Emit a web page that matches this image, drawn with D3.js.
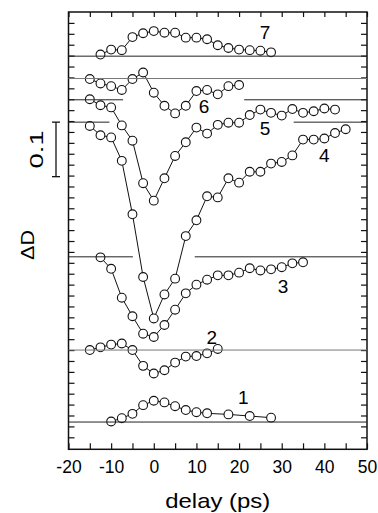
<!DOCTYPE html>
<html>
<head>
<meta charset="utf-8">
<script src="https://cdn.jsdelivr.net/npm/d3@7"></script>
<style>
  body { margin: 0; background: #fff; }
  text { font-family: "Liberation Sans", Arial, sans-serif; fill: #000; }
</style>
</head>
<body>
<svg id="chart"></svg>
<script>
// curves 1..7 : delay (ps) and ΔD relative to each curve's own baseline
const delays = [
  [-10, -7.5, -5, -2.5, 0, 2.5, 5, 7.5, 10, 12.5, 17.5, 22.5, 27.5],
  [-15, -12.5, -10, -7.5, -5, -2.5, 0, 2.5, 5, 7.5, 10, 12.5, 15],
  [-12.5, -10, -7.5, -5, -2.5, 0, 2.5, 5, 7.5, 10, 12.5, 15, 17.5, 20, 22.5, 25, 27.5, 30, 32.5, 35],
  [-15, -12.5, -10, -7.5, -5, -2.5, 0, 2.5, 5, 7.5, 10, 12.5, 15, 17.5, 20, 22.5, 25, 27.5, 30, 32.5, 35, 37.5, 40, 42.5, 45],
  [-15, -12.5, -10, -7.5, -5, -2.5, 0, 2.5, 5, 7.5, 10, 12.5, 15, 17.5, 20, 22.5, 25, 27.5, 30, 32.5, 35, 37.5, 40, 42.5],
  [-15, -12.5, -10, -7.5, -5, -2.5, 0, 2.5, 5, 7.5, 10, 12.5, 15, 17.5, 20],
  [-12.5, -10, -7.5, -5, -2.5, 0, 2.5, 5, 7.5, 10, 12.5, 15, 17.5, 20, 22.5, 25, 27.5]
];
const deltaD = [
  [0.001, 0.007, 0.015, 0.031, 0.039, 0.036, 0.029, 0.022, 0.018, 0.016, 0.014, 0.011, 0.008],
  [0, 0.005, 0.010, 0.012, 0, -0.029, -0.043, -0.037, -0.023, -0.012, -0.011, -0.006, 0.002],
  [-0.001, -0.022, -0.075, -0.109, -0.141, -0.147, -0.125, -0.097, -0.067, -0.051, -0.042, -0.034, -0.034, -0.029, -0.021, -0.025, -0.023, -0.019, -0.012, -0.010],
  [-0.007, -0.024, -0.028, -0.071, -0.169, -0.284, -0.360, -0.316, -0.287, -0.209, -0.180, -0.136, -0.138, -0.103, -0.111, -0.091, -0.091, -0.076, -0.073, -0.061, -0.032, -0.032, -0.030, -0.020, -0.013],
  [0.001, -0.010, -0.014, -0.047, -0.075, -0.153, -0.185, -0.144, -0.103, -0.078, -0.051, -0.062, -0.046, -0.042, -0.042, -0.028, -0.018, -0.024, -0.029, -0.017, -0.024, -0.021, -0.016, -0.018],
  [-0.001, -0.009, -0.014, -0.021, -0.001, 0.011, -0.026, -0.050, -0.064, -0.050, -0.023, -0.021, -0.029, -0.014, -0.012],
  [0.003, 0.012, 0.011, 0.035, 0.042, 0.046, 0.043, 0.043, 0.034, 0.034, 0.031, 0.020, 0.015, 0.012, 0.011, 0.010, 0.007]
];
// vertical offset of each curve (its baseline)
const offsets = [0.048, 0.180, 0.351, 0.598, 0.639, 0.678, 0.719];
// baseline pieces (delay ranges) where the zero line is drawn
const baselineParts = [
  [[-20, 50]],
  [[-20, 50]],
  [[-20, -4.9], [9.6, 50]],
  [[-20, -10.4], [32.8, 50]],
  [[-20, -7.2], [21.2, 50]],
  [[-20, 50]],
  [[-20, 50]]
];
const curveNames = ["1", "2", "3", "4", "5", "6", "7"];
// where each curve number sits (delay, ΔD)
const labelAt = [[21, 0.081], [13.6, 0.191], [30.3, 0.285], [40, 0.525], [26.1, 0.574], [11.8, 0.614], [26.1, 0.750]];
const xTicks = [-20, -15, -10, -5, 0, 5, 10, 15, 20, 25, 30, 35, 40, 45, 50];
const yTicks = d3.range(1, 40).map(i => i * 0.02);
const scaleBar = [0.498, 0.598];

const width = 378, height = 513;
const marginLeft = 68.5, plotRight = 367, plotTop = 12, plotBottom = 449.3;

const svg = d3.select("#chart").attr("width", width).attr("height", height);

const x = d3.scaleLinear().domain([-20, 50]).range([marginLeft, plotRight]);
const y = d3.scaleLinear().domain([-0.002, 0.8]).range([plotBottom, plotTop]);

// ticks, all pointing inside the frame
svg.append("g")
  .attr("transform", `translate(0,${plotBottom})`)
  .call(d3.axisBottom(x).tickValues(xTicks).tickSize(-6).tickPadding(11.3)
    .tickFormat(d => d % 10 === 0 ? d : ""))
  .call(g => g.select(".domain").remove())
  .call(g => g.selectAll("text").attr("font-size", 17.5).attr("font-family", null).attr("fill", null));

svg.append("g")
  .attr("transform", `translate(0,${plotTop})`)
  .call(d3.axisTop(x).tickValues(xTicks).tickSize(-5).tickFormat(""))
  .call(g => g.select(".domain").remove());

svg.append("g")
  .attr("transform", `translate(${marginLeft},0)`)
  .call(d3.axisLeft(y).tickValues(yTicks).tickSize(-6).tickFormat(""))
  .call(g => g.select(".domain").remove());

svg.append("g")
  .attr("transform", `translate(${plotRight},0)`)
  .call(d3.axisRight(y).tickValues(yTicks).tickSize(-6).tickFormat(""))
  .call(g => g.select(".domain").remove());

svg.selectAll(".tick line").attr("stroke", "#111").attr("stroke-width", 1.2);

// frame
svg.append("rect")
  .attr("x", marginLeft).attr("y", plotTop)
  .attr("width", plotRight - marginLeft).attr("height", plotBottom - plotTop)
  .attr("fill", "none").attr("stroke", "#111").attr("stroke-width", 1.5);

const curves = delays.map((ds, i) => ds.map((d, j) => [d, deltaD[i][j] + offsets[i]]));

const line = d3.line().x(d => x(d[0])).y(d => y(d[1]));

svg.append("g")
  .selectAll("path")
  .data(curves)
  .join("path")
  .attr("d", line)
  .attr("fill", "none")
  .attr("stroke", "#111")
  .attr("stroke-width", 1);

svg.append("g")
  .selectAll("g")
  .data(curves)
  .join("g")
  .selectAll("circle")
  .data(d => d)
  .join("circle")
  .attr("cx", d => x(d[0]))
  .attr("cy", d => y(d[1]))
  .attr("r", 4.4)
  .attr("fill", "#fff")
  .attr("stroke", "#111")
  .attr("stroke-width", 1.1);

// zero lines of each curve
const parts = baselineParts.flatMap((ps, i) => ps.map(p => ({ from: p[0], to: p[1], v: offsets[i], grey: i === 1 || i === 5 })));
svg.append("g")
  .selectAll("line")
  .data(parts)
  .join("line")
  .attr("x1", d => x(d.from))
  .attr("x2", d => x(d.to))
  .attr("y1", d => y(d.v))
  .attr("y2", d => y(d.v))
  .attr("stroke", d => d.grey ? "#777" : "#222")
  .attr("stroke-width", 1);

// curve numbers
svg.append("g")
  .selectAll("text")
  .data(labelAt)
  .join("text")
  .attr("x", d => x(d[0]))
  .attr("y", d => y(d[1]))
  .attr("text-anchor", "middle")
  .attr("font-size", 19)
  .text((d, i) => curveNames[i]);

// 0.1 scale bar
const barX = 56;
const bar = svg.append("g").attr("stroke", "#111").attr("stroke-width", 1.3);
bar.append("line").attr("x1", barX).attr("x2", barX).attr("y1", y(scaleBar[0])).attr("y2", y(scaleBar[1]));
bar.selectAll(".cap")
  .data(scaleBar)
  .join("line")
  .attr("class", "cap")
  .attr("x1", barX - 4).attr("x2", barX + 4)
  .attr("y1", d => y(d)).attr("y2", d => y(d));

svg.append("text")
  .attr("transform", `translate(42.7,${y((scaleBar[0] + scaleBar[1]) / 2)}) rotate(-90)`)
  .attr("text-anchor", "middle")
  .attr("font-size", 18)
  .attr("textLength", 38)
  .attr("lengthAdjust", "spacingAndGlyphs")
  .text("0.1");

// axis titles
svg.append("text")
  .attr("transform", "translate(33.5,245) rotate(-90)")
  .attr("text-anchor", "middle")
  .attr("font-size", 18)
  .attr("textLength", 30)
  .attr("lengthAdjust", "spacingAndGlyphs")
  .text("ΔD");

svg.append("text")
  .attr("x", (marginLeft + plotRight) / 2)
  .attr("y", 507.5)
  .attr("text-anchor", "middle")
  .attr("font-size", 21)
  .attr("textLength", 105)
  .attr("lengthAdjust", "spacingAndGlyphs")
  .text("delay (ps)");
</script>
</body>
</html>
